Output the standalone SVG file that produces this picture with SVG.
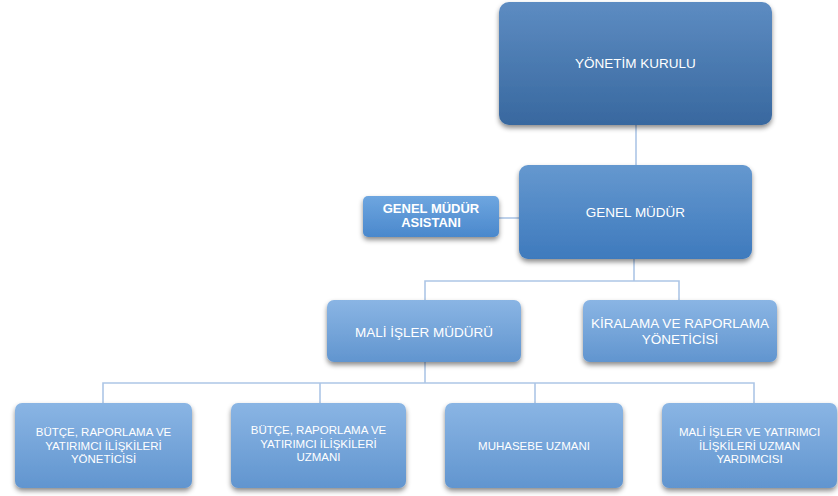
<svg xmlns="http://www.w3.org/2000/svg" width="838" height="496" viewBox="0 0 838 496">
<defs>
<linearGradient id="g1" x1="0" y1="0" x2="0" y2="1"><stop offset="0" stop-color="#5d8cc2"/><stop offset="1" stop-color="#38689f"/></linearGradient>
<linearGradient id="g2" x1="0" y1="0" x2="0" y2="1"><stop offset="0" stop-color="#6598cf"/><stop offset="1" stop-color="#3e7abd"/></linearGradient>
<linearGradient id="g3" x1="0" y1="0" x2="0" y2="1"><stop offset="0" stop-color="#6ea6e0"/><stop offset="1" stop-color="#4a88cc"/></linearGradient>
<linearGradient id="g4" x1="0" y1="0" x2="0" y2="1"><stop offset="0" stop-color="#8ab5e4"/><stop offset="1" stop-color="#6195cf"/></linearGradient>
<filter id="sh" x="-10%" y="-10%" width="120%" height="130%"><feDropShadow dx="0" dy="3" stdDeviation="2.5" flood-color="#000" flood-opacity="0.45"/></filter>
</defs>
<style>
.c{fill:none;stroke:#adc6e6;stroke-width:1.6}
.t{font-family:"Liberation Sans",Arial,sans-serif;fill:#fff;text-anchor:middle}
.big{font-size:13.5px}
.sm{font-size:11.5px}
.b{font-weight:bold;font-size:13px}
</style>
<rect width="838" height="496" fill="#fff"/>
<g id="connectors">
<path class="c" d="M636 125V165"/>
<path class="c" d="M499 218H519"/>
<path class="c" d="M634 259V281M425 300V281H679V300"/>
<path class="c" d="M425 362V383M103 403V383H754V403M320 383V403M535 383V403"/>
</g>
<g id="n-yk"><rect x="499" y="2" width="273" height="123" rx="10" fill="url(#g1)" filter="url(#sh)"/><text class="t big" x="635.5" y="68">YÖNETİM KURULU</text></g>
<g id="n-gm"><rect x="519" y="165" width="233" height="94" rx="9" fill="url(#g2)" filter="url(#sh)"/><text class="t big" x="635.5" y="217">GENEL MÜDÜR</text></g>
<g id="n-gma"><rect x="363" y="196" width="136" height="41" rx="5" fill="url(#g3)" filter="url(#sh)"/><text class="t b" x="431" y="212.5">GENEL MÜDÜR</text><text class="t b" x="431" y="227">ASISTANI</text></g>
<g id="n-mim"><rect x="327" y="300" width="194" height="62" rx="7" fill="url(#g4)" filter="url(#sh)"/><text class="t big" x="424" y="337">MALİ İŞLER MÜDÜRÜ</text></g>
<g id="n-krl"><rect x="583" y="300" width="194" height="62" rx="7" fill="url(#g4)" filter="url(#sh)"/><text class="t big" x="680" y="328">KİRALAMA VE RAPORLAMA</text><text class="t big" x="680" y="343.5">YÖNETİCİSİ</text></g>
<g id="n-b1"><rect x="15" y="403" width="177" height="85" rx="7" fill="url(#g4)" filter="url(#sh)"/><text class="t sm" x="103.5" y="436">BÜTÇE, RAPORLAMA VE</text><text class="t sm" x="103.5" y="449.5">YATIRIMCI İLİŞKİLERİ</text><text class="t sm" x="103.5" y="463">YÖNETİCİSİ</text></g>
<g id="n-b2"><rect x="231" y="403" width="175" height="85" rx="7" fill="url(#g4)" filter="url(#sh)"/><text class="t sm" x="318.5" y="434">BÜTÇE, RAPORLAMA VE</text><text class="t sm" x="318.5" y="447.5">YATIRIMCI İLİŞKİLERİ</text><text class="t sm" x="318.5" y="461">UZMANI</text></g>
<g id="n-b3"><rect x="445" y="403" width="178" height="85" rx="7" fill="url(#g4)" filter="url(#sh)"/><text class="t sm" x="534" y="450">MUHASEBE UZMANI</text></g>
<g id="n-b4"><rect x="662" y="403" width="175" height="85" rx="7" fill="url(#g4)" filter="url(#sh)"/><text class="t sm" x="749.5" y="436">MALİ İŞLER VE YATIRIMCI</text><text class="t sm" x="749.5" y="449.5">İLİŞKİLERİ UZMAN</text><text class="t sm" x="749.5" y="463">YARDIMCISI</text></g>
</svg>
